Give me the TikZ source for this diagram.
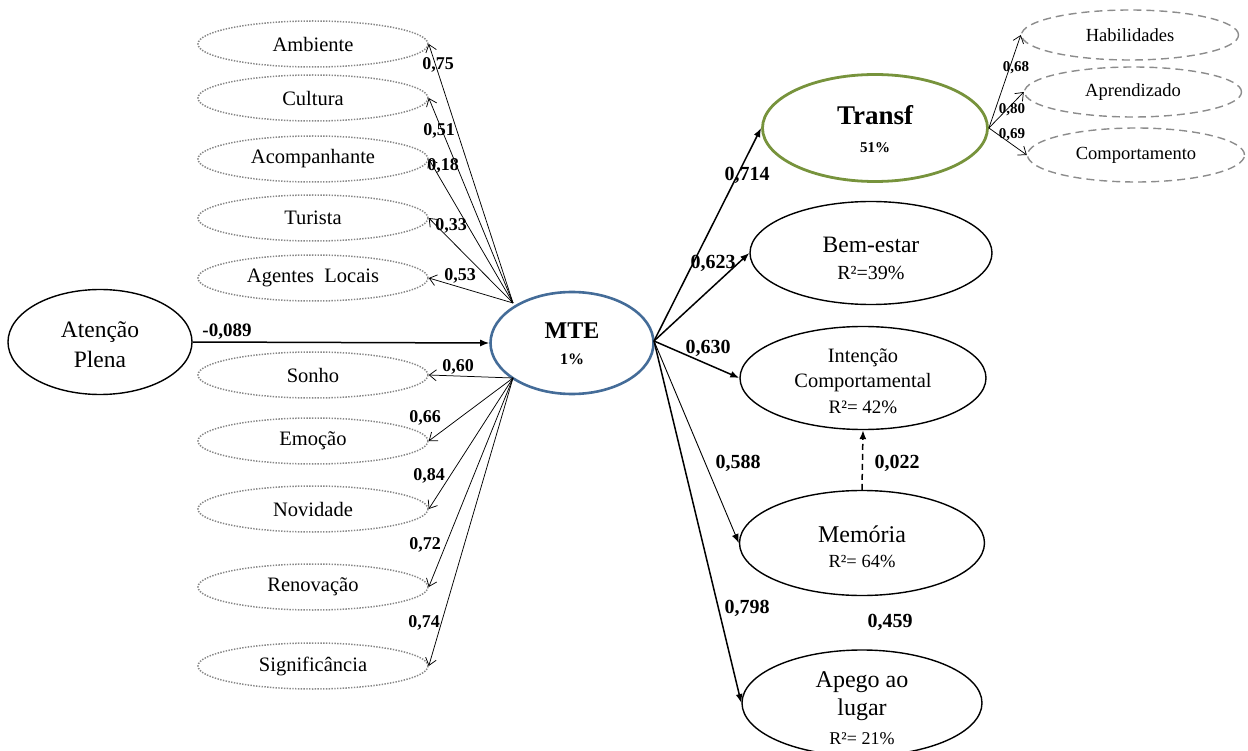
\documentclass[tikz,border=0pt]{standalone}
\usepackage{fontspec}
\setmainfont{Liberation Serif}
\usetikzlibrary{shapes.geometric,arrows.meta}
\definecolor{dotgray}{RGB}{135,135,135}
\definecolor{dashgray}{RGB}{140,140,140}
\definecolor{mteblue}{RGB}{68,108,152}
\definecolor{transgreen}{RGB}{119,147,60}
\newcommand{\fsz}[2]{\fontsize{#1}{#2}\selectfont}
\begin{document}
\begin{tikzpicture}[x=1pt,y=-1pt,
  ind/.style={ellipse, draw=dotgray, line width=1.5pt, dash pattern=on 1.4pt off 1.4pt, minimum width=230pt, minimum height=46pt, inner sep=0pt, font=\fsz{20.5}{24}},
  indt/.style={ellipse, draw=dashgray, line width=1.4pt, dash pattern=on 8pt off 5pt, minimum width=217pt, minimum height=50pt, inner sep=0pt, font=\fsz{18.5}{22}},
  lat/.style={ellipse, draw=black, line width=1.4pt, inner sep=0pt},
  ltxt/.style={align=center, inner sep=0pt},
  loadarr/.style={-{Straight Barb[length=7pt,width=11pt]}, line width=0.75pt},
  strpath/.style={-{Latex[length=9pt,width=7pt]}, line width=1.5pt},
  lbl/.style={font=\bfseries\fsz{18}{20}, inner sep=0pt},
  blbl/.style={font=\bfseries\fsz{20}{22}, inner sep=0pt},
  slbl/.style={font=\bfseries\fsz{15}{17}, inner sep=0pt}
]
\useasboundingbox (0,0) rectangle (1248,751);

% indicator ellipses (left)
\node[ind] (amb)   at (313,44)  {Ambiente};
\node[ind] (cult)  at (313,98)  {Cultura};
\node[ind] (acomp) at (313,159) {Acompanhante};
\node[ind] (tur)   at (313,218) {Turista};
\node[ind] (ag)    at (313,278) {Agentes\ \ Locais};
\node[ind] (sonho) at (313,375) {Sonho};
\node[ind] (emo)   at (313,441) {Emoção};
\node[ind] (nov)   at (313,509) {Novidade};
\node[ind] (ren)   at (313,587) {Renovação};
\node[ind] (sig)   at (313,666) {Significância};

% indicator ellipses (right)
\node[indt] (hab)  at (1130,35)  {Habilidades};
\node[indt] (apr)  at (1133,92)  {Aprendizado};
\node[indt, minimum height=54pt] (comp) at (1136,155) {Comportamento};

% latent variables
\node[lat, minimum width=184pt, minimum height=105pt] (aten) at (100,342) {};
\node[ltxt, font=\fsz{23.5}{30}] (atenT) at ([yshift=-3pt]aten.center) {Atenção\\Plena};
\node[lat, draw=mteblue, line width=2.6pt, minimum width=163pt, minimum height=102pt] (mte) at (572,343) {};
\node[ltxt, font=\bfseries\fsz{24}{26}] (mteT) at ([yshift=-1pt]mte.center) {MTE\\{\fsz{16}{18}1\%}};
\node[lat, draw=transgreen, line width=2.8pt, minimum width=225pt, minimum height=107pt] (transf) at (875,128) {};
\node[ltxt, font=\bfseries\fsz{27}{28}] (transfT) at ([yshift=-1pt]transf.center) {Transf\\{\fsz{15}{17}51\%}};
\node[lat, minimum width=242pt, minimum height=103pt] (bem) at (871,253) {};
\node[ltxt, font=\fsz{23.5}{27}] (bemT) at ([yshift=-5pt]bem.center) {Bem-estar\\{\fsz{20}{22}R²=39\%}};
\node[lat, minimum width=246pt, minimum height=103pt] (inten) at (863,378) {};
\node[ltxt, font=\fsz{20.4}{25.5}] (intenT) at ([yshift=-3pt]inten.center) {Intenção\\Comportamental\\{\fsz{19}{22}R²= 42\%}};
\node[lat, minimum width=245pt, minimum height=105pt] (mem) at (862,543) {};
\node[ltxt, font=\fsz{24}{25}] (memT) at ([yshift=-4pt]mem.center) {Memória\\{\fsz{18.5}{22}R²= 64\%}};
\node[lat, minimum width=240pt, minimum height=106pt] (apego) at (862,703) {};
\node[ltxt, font=\fsz{24}{28.5}] (apegoT) at ([yshift=-5pt]apego.center) {Apego ao\\lugar\\{\fsz{18}{22}R²= 21\%}};

% anchor points on MTE
\coordinate (mteU) at (513,303);
\coordinate (mteL) at (513,378);
\coordinate (mteR) at (654,341);

% loadings MTE
\draw[loadarr] (mteU) -- (amb.east);
\draw[loadarr] (mteU) -- (cult.east);
\draw[loadarr] (mteU) -- (acomp.east);
\draw[loadarr] (mteU) -- (tur.east);
\draw[loadarr] (mteU) -- (ag.east);
\draw[loadarr] (mteL) -- (sonho.east);
\draw[loadarr] (mteL) -- (emo.east);
\draw[loadarr] (mteL) -- (nov.east);
\draw[loadarr] (mteL) -- (ren.east);
\draw[loadarr] (mteL) -- (sig.east);

% loadings Transf
\draw[loadarr] (transf.east) -- (hab.west);
\draw[loadarr] (transf.east) -- (apr.west);
\draw[loadarr] (transf.east) -- (comp.west);

% structural paths
\draw[strpath] (aten.east) -- (mte.west);
\draw[strpath] (mteR) -- (transf.west);
\draw[strpath] (mteR) -- (bem.west);
\draw[strpath] (mteR) -- (inten.west);
\draw[strpath, line width=0.9pt] (mteR) -- (mem.west);
\draw[strpath] (mteR) -- (apego.west);
\draw[strpath, dash pattern=on 6pt off 4pt] (mem.north) -- (inten.south);

% labels
\node[lbl] (l1) at (438,65)  {0,75};
\node[lbl] (l2) at (439,131) {0,51};
\node[lbl] (l3) at (443,166) {0,18};
\node[lbl] (l4) at (451,226) {0,33};
\node[lbl] (l5) at (460,276) {0,53};
\node[lbl] (l6) at (458,367) {0,60};
\node[lbl] (l7) at (425,418) {0,66};
\node[lbl] (l8) at (429,476) {0,84};
\node[lbl] (l9) at (425,545) {0,72};
\node[lbl] (l10) at (424,623) {0,74};

\node[slbl] (t1) at (1016,68)  {0,68};
\node[slbl] (t2) at (1012,110) {0,80};
\node[slbl] (t3) at (1012,135) {0,69};

\node[blbl, font=\bfseries\fsz{19}{21}] (p0) at (227,332) {-0,089};
\node[blbl] (p1) at (747,175) {0,714};
\node[blbl] (p2) at (713,263) {0,623};
\node[blbl] (p3) at (708,348) {0,630};
\node[blbl] (p4) at (738,463) {0,588};
\node[blbl] (p5) at (747,608) {0,798};
\node[blbl] (p6) at (890,622) {0,459};
\node[blbl] (p7) at (897,463) {0,022};
\end{tikzpicture}
\end{document}
